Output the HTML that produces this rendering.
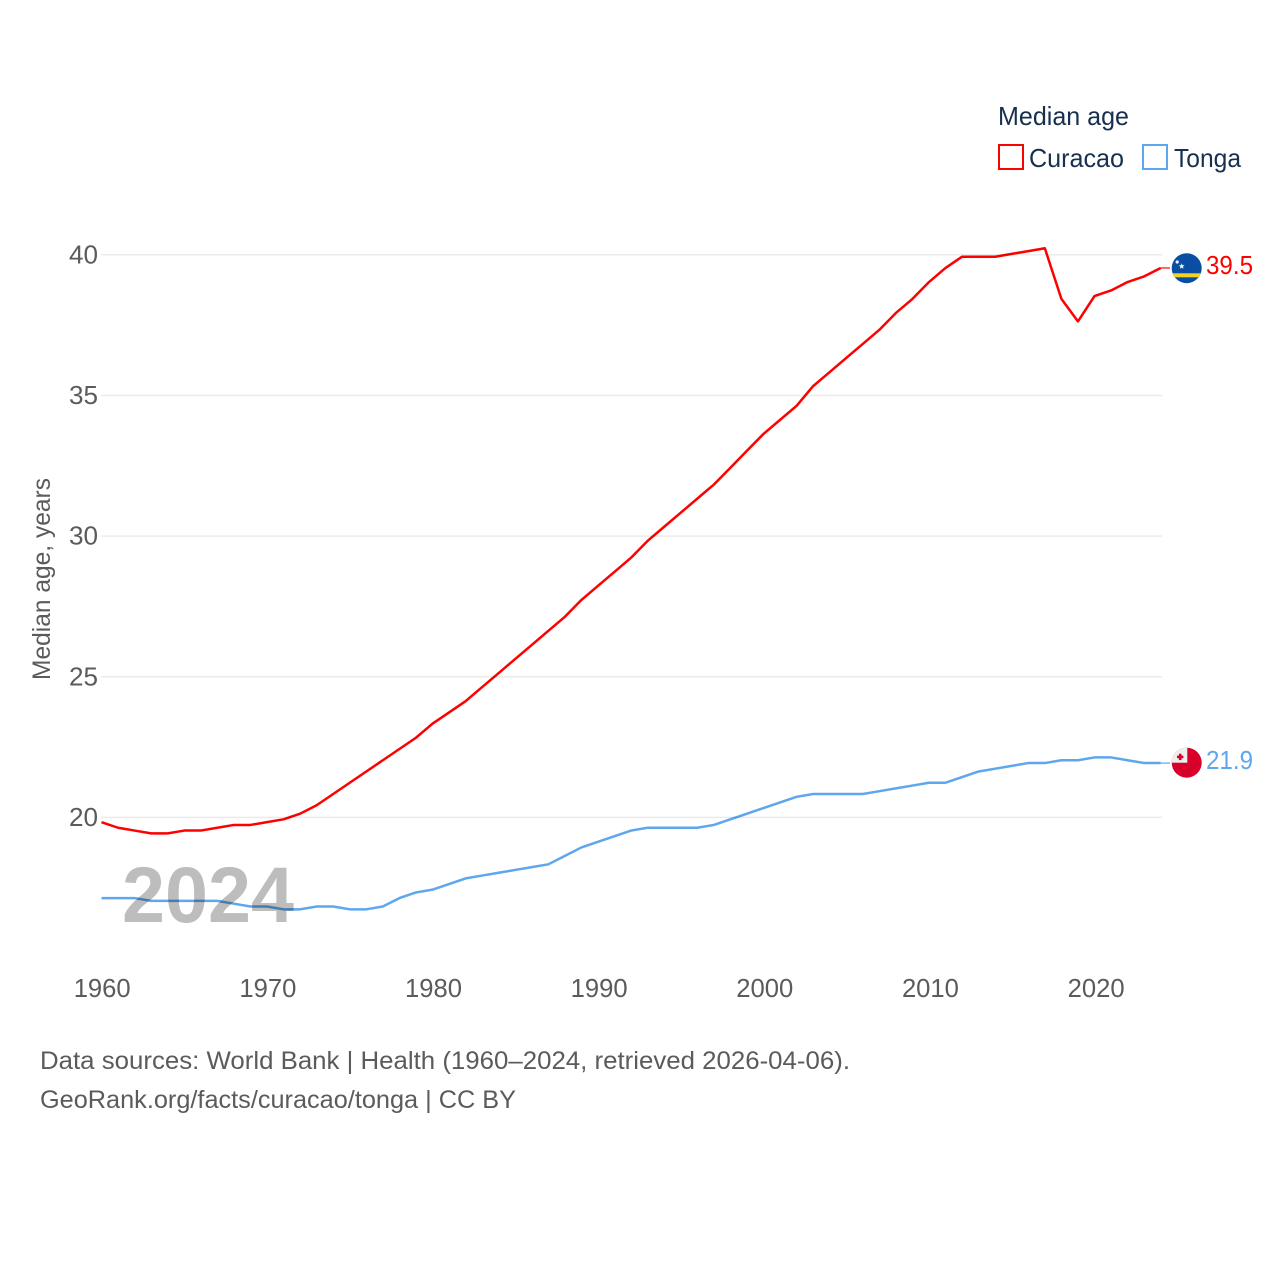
<!DOCTYPE html>
<html lang="en">
<head>
<meta charset="utf-8">
<title>Median age: Curacao and Tonga</title>
<style>
html,body{margin:0;padding:0;background:#fff;width:1280px;height:1280px;overflow:hidden}
svg{display:block}
text{font-family:"Liberation Sans",sans-serif}
</style>
</head>
<body>
<svg id="chart" xmlns="http://www.w3.org/2000/svg" width="1280" height="1280" viewBox="0 0 1280 1280">
  <rect x="0" y="0" width="1280" height="1280" fill="#ffffff"/>
  <g id="grid"></g>
  <g id="yticks"></g>
  <g id="xticks"></g>
  <text transform="translate(50,579) rotate(-90)" text-anchor="middle" font-size="25" fill="#5b5b5b" textLength="202" lengthAdjust="spacingAndGlyphs">Median age, years</text>
  <text x="122" y="922" font-size="79" font-weight="700" fill="#bdbdbd" textLength="172" lengthAdjust="spacingAndGlyphs">2024</text>
  <g id="series"></g>

  <g>
    <text x="998" y="125" font-size="26" fill="#18304f" textLength="131" lengthAdjust="spacingAndGlyphs">Median age</text>
    <g>
      <rect x="999" y="145" width="24" height="24" fill="#ffffff" stroke="#ff0000" stroke-width="2"/>
      <text x="1029" y="167" font-size="26" fill="#18304f" textLength="95" lengthAdjust="spacingAndGlyphs">Curacao</text>
    </g>
    <g>
      <rect x="1143" y="145" width="24" height="24" fill="#ffffff" stroke="#5ea6ee" stroke-width="2"/>
      <text x="1174" y="167" font-size="26" fill="#18304f" textLength="67" lengthAdjust="spacingAndGlyphs">Tonga</text>
    </g>
  </g>

  <defs>
    <clipPath id="clip-cw"><circle cx="1186.7" cy="268.2" r="15"/></clipPath>
    <clipPath id="clip-to"><circle cx="1186.7" cy="762.7" r="15"/></clipPath>
  </defs>
  <g clip-path="url(#clip-cw)">
    <rect x="1170" y="252" width="34" height="34" fill="#0a4ea4"/>
    <rect x="1170" y="273.3" width="34" height="4" fill="#f5d21f"/>
    <polygon points="1181.7,263.2 1182.5,265.2 1184.6,265.3 1183,266.7 1183.5,268.8 1181.7,267.6 1179.9,268.8 1180.4,266.7 1178.8,265.3 1180.9,265.2" fill="#f2f2f2"/>
    <circle cx="1177.2" cy="262" r="1.6" fill="#f2f2f2"/>
  </g>
  <g clip-path="url(#clip-to)">
    <rect x="1170" y="746" width="34" height="34" fill="#d7002a"/>
    <rect x="1170" y="746" width="17.3" height="16.7" fill="#eeeeee"/>
    <rect x="1178.9" y="753.7" width="2.6" height="6.4" fill="#d7002a"/>
    <rect x="1177" y="755.6" width="6.4" height="2.6" fill="#d7002a"/>
  </g>

  <text x="1206" y="274" font-size="26" fill="#ff0000" textLength="47" lengthAdjust="spacingAndGlyphs">39.5</text>
  <text x="1206" y="769" font-size="26" fill="#5ea6ee" textLength="47" lengthAdjust="spacingAndGlyphs">21.9</text>

  <text x="40" y="1069" font-size="25" fill="#5b5b5b" textLength="810" lengthAdjust="spacingAndGlyphs">Data sources: World Bank | Health (1960–2024, retrieved 2026-04-06).</text>
  <text x="40" y="1108" font-size="25" fill="#5b5b5b" textLength="476" lengthAdjust="spacingAndGlyphs">GeoRank.org/facts/curacao/tonga | CC BY</text>
</svg>
<script>
const startYear = 1960;
const xTickYears = [1960, 1970, 1980, 1990, 2000, 2010, 2020];
const yTickValues = [20, 25, 30, 35, 40];
const curacaoValues = [19.8,19.6,19.5,19.4,19.4,19.5,19.5,19.6,19.7,19.7,19.8,19.9,20.1,20.4,20.8,21.2,21.6,22.0,22.4,22.8,23.3,23.7,24.1,24.6,25.1,25.6,26.1,26.6,27.1,27.7,28.2,28.7,29.2,29.8,30.3,30.8,31.3,31.8,32.4,33.0,33.6,34.1,34.6,35.3,35.8,36.3,36.8,37.3,37.9,38.4,39.0,39.5,39.9,39.9,39.9,40.0,40.1,40.2,38.4,37.6,38.5,38.7,39.0,39.2,39.5];
const tongaValues = [17.1,17.1,17.1,17.0,17.0,17.0,17.0,17.0,16.9,16.8,16.8,16.7,16.7,16.8,16.8,16.7,16.7,16.8,17.1,17.3,17.4,17.6,17.8,17.9,18.0,18.1,18.2,18.3,18.6,18.9,19.1,19.3,19.5,19.6,19.6,19.6,19.6,19.7,19.9,20.1,20.3,20.5,20.7,20.8,20.8,20.8,20.8,20.9,21.0,21.1,21.2,21.2,21.4,21.6,21.7,21.8,21.9,21.9,22.0,22.0,22.1,22.1,22.0,21.9,21.9];

const NS = 'http://www.w3.org/2000/svg';
function xScale(year) { return 101.5 + (year - 1960) * 16.55; }
function xTickPos(year) { return 102.2 + (year - 1960) * 16.565; }
function yScale(v) { return 254.8 + (40 - v) * 28.13; }
function yLine(v) { return yScale(v) - 0.9; }
function make(tag, attrs, parent) {
  const el = document.createElementNS(NS, tag);
  for (const k in attrs) el.setAttribute(k, attrs[k]);
  parent.appendChild(el);
  return el;
}

const grid = document.getElementById('grid');
const yticks = document.getElementById('yticks');
yTickValues.forEach(function (v) {
  const line = make('line', { x1: 101, x2: 1162, y1: yScale(v), y2: yScale(v), stroke: '#ebebeb', 'stroke-width': 1.5 }, grid);
  
  
  const label = make('text', { x: 98, y: yScale(v) + 8.5, 'text-anchor': 'end', 'font-size': 26, fill: '#5b5b5b', textLength: 29, lengthAdjust: 'spacingAndGlyphs' }, yticks);
  
  
  label.textContent = String(v);
});

const xticks = document.getElementById('xticks');
xTickYears.forEach(function (yr) {
  const label = make('text', { x: xTickPos(yr), y: 997, 'text-anchor': 'middle', 'font-size': 26, fill: '#5b5b5b', textLength: 57, lengthAdjust: 'spacingAndGlyphs' }, xticks);
  
  
  label.textContent = String(yr);
});

function drawSeries(name, values, color) {
  const series = document.getElementById('series');
  const pts = values.map(function (v, i) { return xScale(startYear + i).toFixed(2) + ',' + yLine(v).toFixed(2); });
  const path = make('polyline', { points: pts.join(' '), fill: 'none', stroke: color, 'stroke-width': 2.5, 'stroke-linejoin': 'round', style: 'mix-blend-mode:multiply' }, series);
  
  
  const last = values[values.length - 1];
  const lastX = xScale(startYear + values.length - 1);
  const connector = make('line', { x1: lastX, x2: 1170, y1: yLine(last), y2: yLine(last), stroke: color, 'stroke-width': 1.2 }, series);
  
  
}
drawSeries('tonga', tongaValues, '#5ea6ee');
drawSeries('curacao', curacaoValues, '#ff0000');
</script>
</body>
</html>
